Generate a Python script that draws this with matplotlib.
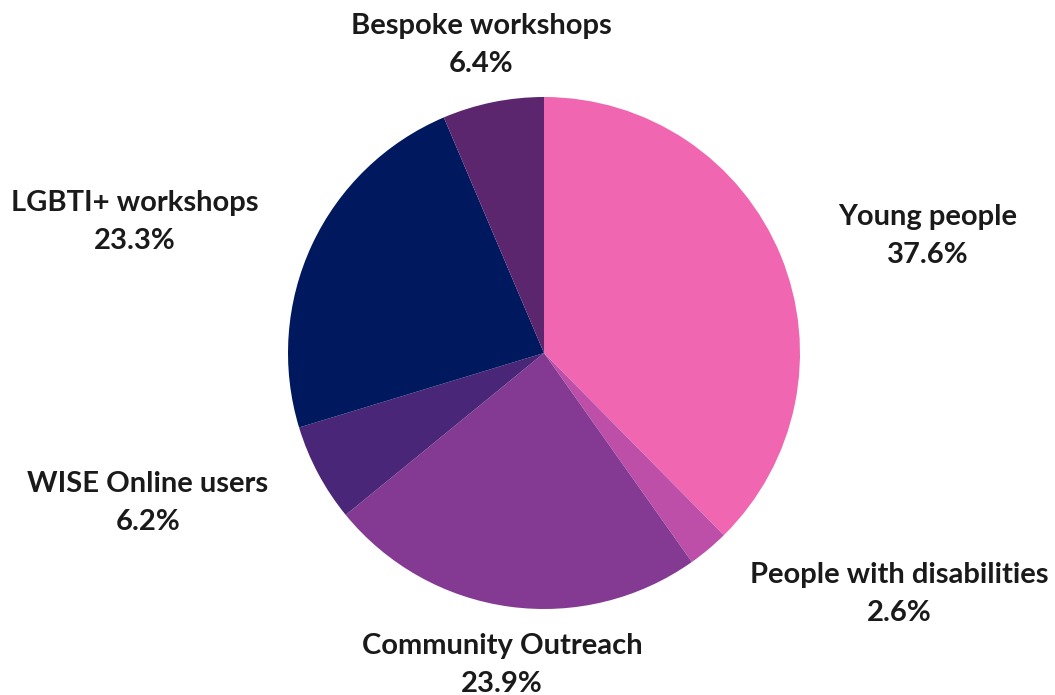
import matplotlib.pyplot as plt

labels = ['Young people', 'People with disabilities', 'Community Outreach',
          'WISE Online users', 'LGBTI+ workshops', 'Bespoke workshops']
shares = [37.6, 2.6, 23.9, 6.2, 23.3, 6.4]
colors = ['#F066B0', '#BE4FA8', '#843A92', '#4A2678', '#00195E', '#5C266F']

# label block centres in pixel coords (x from left, y from top)
label_pos = [(928, 236), (899, 594), (502, 665), (148, 503), (135, 222), (481, 45)]

W, H = 1055, 695
fig = plt.figure(figsize=(W / 100, H / 100), dpi=100)
ax = fig.add_axes([0, 0, 1, 1])

ax.pie(shares, colors=colors, startangle=90, counterclock=False,
       center=(544, H - 353), radius=256, frame=True,
       wedgeprops={'linewidth': 0})
ax.set_xlim(0, W)
ax.set_ylim(0, H)
ax.axis('off')

for name, val, (x, y) in zip(labels, shares, label_pos):
    ax.text(x, H - y, f'{name}\n{val}%', ha='center', va='center',
            fontsize=21, fontweight='bold', family='Lato', color='#1a1a1a',
            linespacing=1.55)

fig.savefig('out.png', dpi=100)
